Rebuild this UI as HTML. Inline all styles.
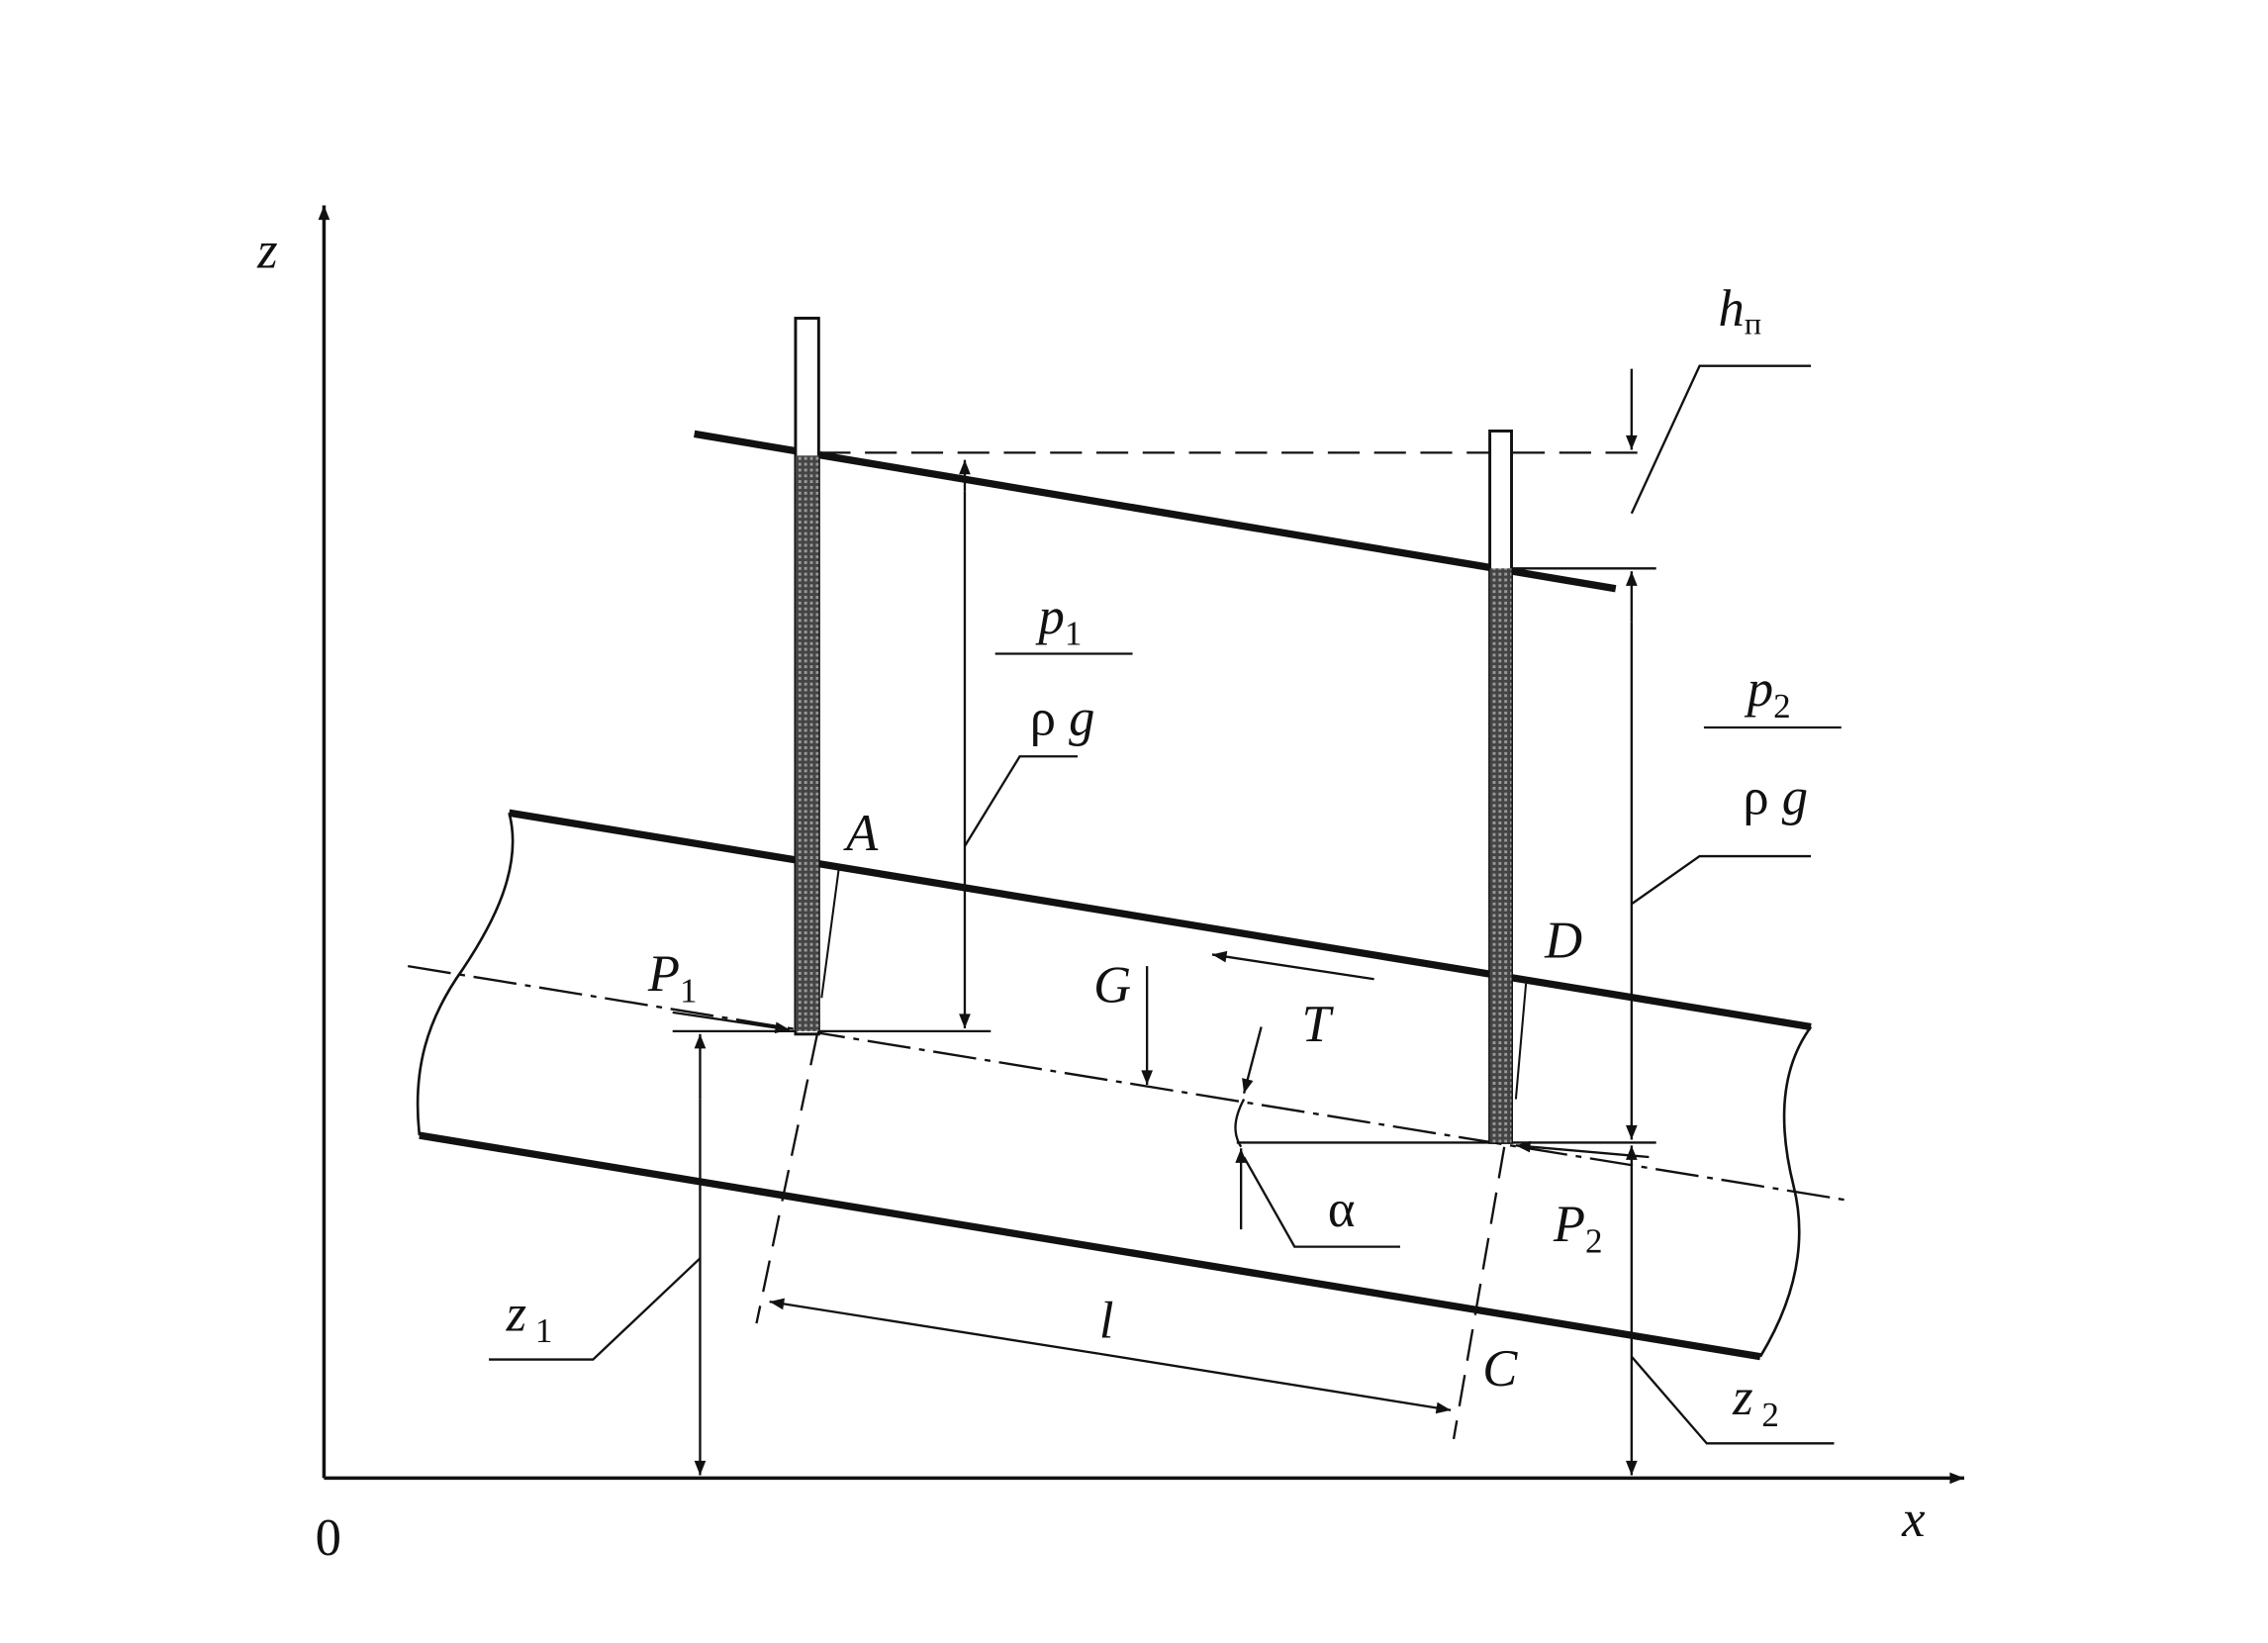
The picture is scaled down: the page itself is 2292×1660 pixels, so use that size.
<!DOCTYPE html>
<html><head><meta charset="utf-8"><style>
html,body{margin:0;padding:0;background:#fff;}
svg{display:block}
text{font-family:"Liberation Serif",serif;font-style:italic;fill:#111}
</style></head><body>
<svg width="2292" height="1660" viewBox="0 0 1568 1136" preserveAspectRatio="none" xmlns="http://www.w3.org/2000/svg">
<defs>
<marker id="a" viewBox="0 0 10 10" refX="10" refY="5" markerWidth="16" markerHeight="10" markerUnits="userSpaceOnUse" orient="auto"><path d="M0,1 L10,5 L0,9 z" fill="#111"/></marker>
<pattern id="h" width="4" height="4" patternUnits="userSpaceOnUse"><rect width="4" height="4" fill="#444"/><rect width="2" height="2" fill="#999"/></pattern>
</defs>
<g stroke="#111" fill="none">
<line x1="224" y1="1022" x2="224" y2="142" stroke-width="2.4" marker-end="url(#a)"/>
<line x1="224" y1="1022" x2="1358" y2="1022" stroke-width="2.4" marker-end="url(#a)"/>
<line x1="352" y1="562" x2="1252" y2="710" stroke-width="5"/>
<line x1="290" y1="785" x2="1217" y2="938" stroke-width="5"/>
<path d="M352,562 C362,600 340,640 320,670 C295,705 285,740 290,785" stroke-width="1.8"/>
<path d="M1252,710 C1230,740 1230,780 1240,820 C1250,860 1240,900 1217,938" stroke-width="1.8"/>
<line x1="282" y1="668" x2="1278" y2="830" stroke-width="1.6" stroke-dasharray="30,6,4,6"/>
<line x1="480" y1="300" x2="1117" y2="407" stroke-width="5"/>
<line x1="566" y1="313" x2="1140" y2="313" stroke-width="1.6" stroke-dasharray="22,10"/>
<line x1="1045" y1="393" x2="1145" y2="393" stroke-width="1.6"/>
<line x1="465" y1="713" x2="685" y2="713" stroke-width="1.6"/>
<line x1="855" y1="790" x2="1145" y2="790" stroke-width="1.6"/>
<rect x="550" y="220" width="16" height="495" stroke-width="2" fill="#fff"/>
<rect x="550" y="315" width="16" height="398" fill="url(#h)" stroke="none"/>
<rect x="1030" y="298" width="15" height="492" stroke-width="2" fill="#fff"/>
<rect x="1030" y="393" width="15" height="397" fill="url(#h)" stroke="none"/>
<line x1="667" y1="340" x2="667" y2="318" stroke-width="1.6" marker-end="url(#a)"/>
<line x1="667" y1="340" x2="667" y2="711" stroke-width="1.6" marker-end="url(#a)"/>
<line x1="1128" y1="255" x2="1128" y2="311" stroke-width="1.6" marker-end="url(#a)"/>
<line x1="1128" y1="430" x2="1128" y2="395" stroke-width="1.6" marker-end="url(#a)"/>
<line x1="1128" y1="430" x2="1128" y2="788" stroke-width="1.6" marker-end="url(#a)"/>
<line x1="1128" y1="840" x2="1128" y2="792" stroke-width="1.6" marker-end="url(#a)"/>
<line x1="1128" y1="840" x2="1128" y2="1020" stroke-width="1.6" marker-end="url(#a)"/>
<line x1="484" y1="760" x2="484" y2="715" stroke-width="1.6" marker-end="url(#a)"/>
<line x1="484" y1="760" x2="484" y2="1020" stroke-width="1.6" marker-end="url(#a)"/>
<line x1="565" y1="715" x2="523" y2="915" stroke-width="1.6" stroke-dasharray="22,10"/>
<line x1="1040" y1="793" x2="1005" y2="995" stroke-width="1.6" stroke-dasharray="22,10"/>
<line x1="760" y1="936" x2="532" y2="900" stroke-width="1.6" marker-end="url(#a)"/>
<line x1="760" y1="936" x2="1003" y2="975" stroke-width="1.6" marker-end="url(#a)"/>
<line x1="465" y1="700" x2="546" y2="712" stroke-width="1.6" marker-end="url(#a)"/>
<line x1="1140" y1="800" x2="1048" y2="792" stroke-width="1.6" marker-end="url(#a)"/>
<line x1="793" y1="668" x2="793" y2="750" stroke-width="1.6" marker-end="url(#a)"/>
<line x1="950" y1="677" x2="838" y2="660" stroke-width="1.6" marker-end="url(#a)"/>
<line x1="872" y1="710" x2="860" y2="756" stroke-width="1.6" marker-end="url(#a)"/>
<line x1="858" y1="850" x2="858" y2="794" stroke-width="1.6" marker-end="url(#a)"/>
<path d="M860,760 C852,775 853,785 858,793" stroke-width="1.6"/>
<line x1="580" y1="600" x2="568" y2="690" stroke-width="1.4"/>
<line x1="1055" y1="680" x2="1048" y2="760" stroke-width="1.4"/>
<polyline points="1128,355 1175,253 1252,253" stroke-width="1.6"/>
<line x1="688" y1="452" x2="783" y2="452" stroke-width="1.6"/>
<polyline points="667,585 705,523 745,523" stroke-width="1.6"/>
<line x1="1178" y1="503" x2="1273" y2="503" stroke-width="1.6"/>
<polyline points="1128,625 1175,592 1252,592" stroke-width="1.6"/>
<polyline points="484,870 410,940 338,940" stroke-width="1.6"/>
<polyline points="1128,938 1180,998 1268,998" stroke-width="1.6"/>
<polyline points="860,800 895,862 968,862" stroke-width="1.6"/>
</g>
<g font-size="36">
<text x="178" y="185">z</text>
<text x="1315" y="1062">x</text>
<text x="218" y="1075" style="font-style:normal">0</text>
<text x="1188" y="225">h<tspan font-size="22" dy="6" style="font-style:normal">п</tspan></text>
<text x="718" y="438">p<tspan font-size="24" dy="8" style="font-style:normal">1</tspan></text>
<text x="712" y="508"><tspan style="font-style:normal">ρ</tspan> g</text>
<text x="1208" y="488">p<tspan font-size="24" dy="8" style="font-style:normal">2</tspan></text>
<text x="1205" y="563"><tspan style="font-style:normal">ρ</tspan> g</text>
<text x="585" y="588">A</text>
<text x="1068" y="662">D</text>
<text x="448" y="685">P<tspan font-size="24" dy="8" style="font-style:normal">1</tspan></text>
<text x="756" y="693">G</text>
<text x="900" y="720">T</text>
<text x="918" y="848" style="font-style:normal">α</text>
<text x="1074" y="858">P<tspan font-size="24" dy="8" style="font-style:normal">2</tspan></text>
<text x="760" y="925">l</text>
<text x="1025" y="958">C</text>
<text x="350" y="920">z<tspan font-size="24" dy="8" style="font-style:normal"> 1</tspan></text>
<text x="1198" y="978">z<tspan font-size="24" dy="8" style="font-style:normal"> 2</tspan></text>
</g>
</svg>
</body></html>
